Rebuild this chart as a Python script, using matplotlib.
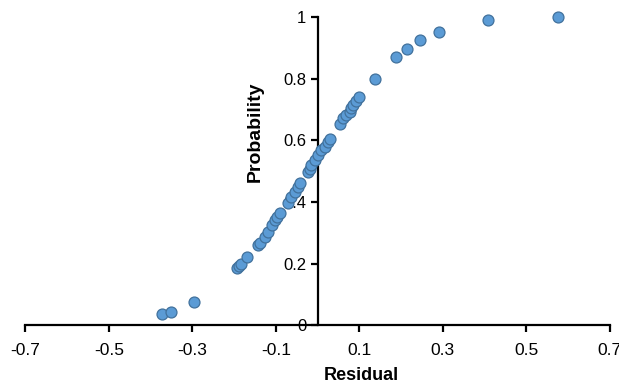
import matplotlib
matplotlib.use("Agg")
import matplotlib.pyplot as plt

residual = [-0.372, -0.350, -0.295, -0.193, -0.189, -0.183, -0.170, -0.143,
            -0.139, -0.127, -0.119, -0.109, -0.103, -0.098, -0.091, -0.071,
            -0.063, -0.055, -0.047, -0.042, -0.023, -0.019, -0.015, -0.007,
            0.001, 0.009, 0.017, 0.025, 0.029, 0.053, 0.061, 0.069, 0.077,
            0.081, 0.086, 0.093, 0.099, 0.137, 0.189, 0.214, 0.246, 0.290,
            0.409, 0.576]
probability = [0.036, 0.042, 0.075, 0.184, 0.192, 0.200, 0.220, 0.260,
               0.267, 0.286, 0.303, 0.325, 0.341, 0.350, 0.363, 0.395,
               0.417, 0.433, 0.449, 0.460, 0.498, 0.505, 0.520, 0.536,
               0.552, 0.568, 0.579, 0.595, 0.603, 0.654, 0.671, 0.682, 0.693,
               0.705, 0.714, 0.728, 0.740, 0.800, 0.869, 0.897, 0.924, 0.951,
               0.990, 1.000]

xticks = [-0.7, -0.5, -0.3, -0.1, 0.1, 0.3, 0.5, 0.7]
xticklabels = ["-0.7", "-0.5", "-0.3", "-0.1", "0.1", "0.3", "0.5", "0.7"]
yticks = [0, 0.2, 0.4, 0.6, 0.8, 1.0]
yticklabels = ["0", "0.2", "0.4", "0.6", "0.8", "1"]

plt.rcParams['font.family'] = ['Liberation Sans', 'DejaVu Sans']

fig = plt.figure(figsize=(6.19, 3.83), dpi=100)
ax = fig.add_axes([0.041, 0.151, 0.944, 0.805])

ax.scatter(residual, probability, s=62, color='#5B9BD5', edgecolor='#41719C',
           linewidth=0.9, zorder=3, clip_on=False)

ax.set_xlim(-0.7, 0.7)
ax.set_ylim(0, 1)
ax.spines['left'].set_position(('data', 0))
ax.spines['bottom'].set_position(('data', 0))
ax.spines['top'].set_visible(False)
ax.spines['right'].set_visible(False)
for s in ('left', 'bottom'):
    ax.spines[s].set_linewidth(1.6)
    ax.spines[s].set_color('black')

ax.set_xticks(xticks)
ax.set_xticklabels(xticklabels)
ax.set_yticks(yticks)
ax.set_yticklabels(yticklabels)
ax.tick_params(axis='both', direction='out', length=5, width=1.6,
               colors='black')
ax.tick_params(axis='x', pad=8, labelsize=12.5)
ax.tick_params(axis='y', pad=3, labelsize=12)

ax.text(-0.149, 0.628, "Probability", rotation=90, ha='center', va='center',
        fontsize=14, fontweight='bold')
fig.text(361 / 619, 1 - 375 / 383, "Residual", ha='center', va='center',
         fontsize=13, fontweight='bold')

fig.savefig("out.png", dpi=100)
